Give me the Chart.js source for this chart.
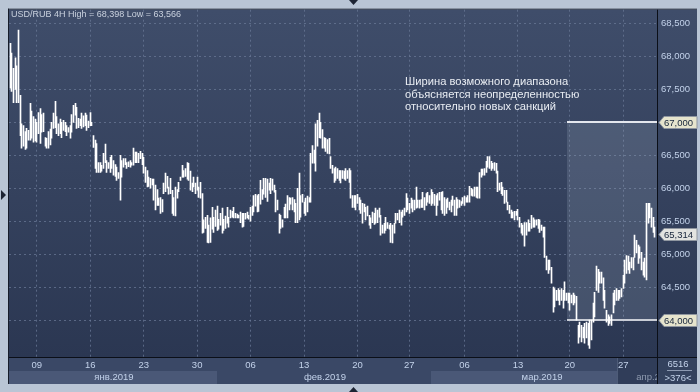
<!DOCTYPE html>
<html><head><meta charset="utf-8">
<script src="https://cdn.jsdelivr.net/npm/chart.js@4.4.1/dist/chart.umd.min.js"></script>
<style>html,body{margin:0;padding:0;background:#b9c5d5;overflow:hidden}canvas{display:block}</style>
</head><body>
<canvas id="c" width="700" height="392"></canvas>
<script>
// ---- DATA (USD/RUB, 4H bars, 07.01.2019 – 01.04.2019) ----
const highs = [
68.20,68.05,67.82,67.98,67.86,68.40,67.41,66.98,66.95,66.86,
66.91,66.88,67.29,67.17,67.09,67.05,67.00,67.15,67.21,67.12,
67.14,66.77,66.76,66.86,66.90,67.00,67.14,67.32,67.09,66.98,
67.05,67.00,67.03,67.00,66.95,66.92,66.95,67.12,67.26,67.29,
67.23,67.06,67.05,67.14,67.10,67.14,67.11,67.02,67.15,67.00,
66.80,66.73,66.68,66.39,66.39,66.35,66.53,66.67,66.42,66.39,
66.47,66.50,66.42,66.36,66.32,66.24,66.50,66.42,66.45,66.45,
66.39,66.40,66.42,66.39,66.61,66.55,66.55,
66.53,66.56,66.53,66.47,66.32,66.27,66.17,66.15,66.14,66.14,
66.05,65.98,65.85,65.86,65.83,66.08,66.23,66.18,66.02,66.15,
65.97,65.86,66.02,65.98,66.09,66.17,66.35,66.27,66.30,66.39,
66.38,66.26,66.08,66.17,66.08,66.17,66.02,66.09,65.92,65.52,
65.56,65.59,65.44,65.55,65.71,65.56,65.67,65.73,65.53,65.62,
65.70,65.53,65.58,65.71,65.56,65.67,65.65,65.71,65.62,65.61,
65.59,65.64,65.62,65.62,65.62,65.64,65.59,65.71,65.73,65.89,
65.91,65.89,65.91,66.12,65.98,66.15,66.15,66.14,66.08,66.15,
66.14,66.05,65.97,65.82,65.61,65.59,65.52,65.71,65.76,65.89,
65.86,65.85,65.86,65.83,65.77,66.00,66.23,65.89,65.91,65.79,
65.85,65.88,65.86,66.53,66.65,66.58,66.98,67.03,67.14,67.00,
66.89,66.77,66.76,66.74,66.76,66.48,66.35,66.30,66.32,66.30,
66.27,66.27,66.27,66.26,66.30,66.27,66.30,66.27,65.89,65.89,
65.89,65.91,65.86,65.82,65.77,65.76,65.71,65.73,65.59,65.55,
65.64,65.62,65.70,65.67,65.70,65.59,65.44,65.47,65.56,65.48,
65.44,65.47,65.44,65.47,65.62,65.62,65.67,65.64,65.67,65.70,
65.92,65.85,65.77,65.85,65.82,65.82,66.02,65.82,65.82,65.83,
65.94,65.86,65.92,65.94,65.89,65.98,65.94,65.91,65.89,65.92,
65.94,65.94,65.95,65.86,65.83,65.85,65.79,65.82,65.88,65.82,
65.86,65.83,65.82,65.80,65.86,65.88,65.86,65.89,66.03,66.00,
65.98,66.02,66.02,66.02,66.24,66.29,66.29,66.30,66.41,66.48,
66.48,66.41,66.38,66.39,66.38,66.26,66.08,66.09,66.02,65.97,
65.97,65.79,65.74,65.67,65.64,65.65,65.65,65.68,65.56,65.47,
65.44,65.48,65.48,65.52,65.47,65.59,65.55,65.52,
65.52,65.53,65.52,65.44,65.41,65.41,64.97,64.91,64.91,64.80,
64.50,64.48,64.45,64.48,64.45,64.48,64.45,64.58,64.41,64.41,
64.41,64.38,64.41,64.38,64.36,63.92,63.97,63.92,63.89,63.95,
63.97,63.95,64.00,64.00,64.26,64.42,64.82,64.77,64.73,64.73,
64.64,64.45,64.15,64.08,64.05,64.08,64.41,64.45,64.48,64.45,
64.45,64.48,64.68,64.91,64.98,64.97,64.88,64.95,64.95,65.29,
65.21,65.14,65.11,65.03,64.88,64.94,65.77,65.77,65.77,65.70,
65.56,65.41
];
const lows = [
67.52,67.47,67.30,67.50,67.30,67.30,66.80,66.61,66.64,66.59,
66.61,66.73,66.73,66.76,66.70,66.72,66.70,66.83,66.68,66.85,
66.86,66.64,66.61,66.61,66.66,66.76,66.91,66.92,66.83,66.80,
66.83,66.77,66.88,66.86,66.80,66.85,66.76,66.85,67.00,67.11,
66.91,66.92,66.95,66.91,66.93,66.95,66.88,66.92,66.95,66.95,
66.62,66.30,66.24,66.24,66.24,66.26,66.30,66.39,66.24,66.30,
66.24,66.30,66.20,66.18,66.12,66.15,65.82,66.17,66.32,66.36,
66.30,66.33,66.32,66.35,66.35,66.39,66.39,
66.39,66.45,66.36,66.23,66.09,66.02,66.03,66.00,66.05,65.82,
65.67,65.74,65.74,65.62,65.64,65.92,65.95,66.00,65.91,65.92,
65.62,65.59,65.58,65.85,65.95,66.12,66.17,66.17,66.18,66.14,
66.12,65.97,65.95,66.02,65.92,65.97,65.86,65.85,65.32,65.33,
65.39,65.18,65.17,65.18,65.38,65.33,65.42,65.36,65.38,65.44,
65.32,65.36,65.39,65.47,65.41,65.55,65.56,65.55,65.55,65.55,
65.55,65.48,65.41,65.42,65.53,65.55,65.53,65.50,65.59,65.64,
65.73,65.64,65.65,65.76,65.83,65.91,65.86,65.80,65.97,65.92,
65.97,65.94,65.64,65.67,65.32,65.39,65.41,65.55,65.55,65.55,
65.67,65.76,65.67,65.64,65.48,65.48,65.52,65.56,65.79,65.62,
65.59,65.64,65.79,65.79,66.38,66.38,66.26,66.64,66.77,66.76,
66.61,66.61,66.56,66.53,66.52,66.30,66.23,66.09,66.12,66.15,
66.12,66.08,66.15,66.14,66.12,66.15,66.09,65.85,65.71,65.71,
65.67,65.77,65.67,65.62,65.47,65.64,65.52,65.58,65.44,65.39,
65.48,65.45,65.47,65.48,65.56,65.29,65.32,65.32,65.36,65.39,
65.38,65.18,65.17,65.32,65.47,65.52,65.48,65.44,65.56,65.59,
65.64,65.67,65.62,65.70,65.64,65.67,65.70,65.71,65.70,65.71,
65.71,65.67,65.74,65.79,65.77,65.74,65.77,65.74,65.59,65.74,
65.82,65.67,65.62,65.59,65.62,65.71,65.67,65.64,65.74,65.59,
65.59,65.70,65.71,65.74,65.77,65.74,65.79,65.79,65.79,65.89,
65.88,65.88,65.86,65.85,65.85,66.17,66.20,66.20,66.24,66.32,
66.30,66.27,66.30,66.27,66.23,65.95,65.97,65.92,65.89,65.77,
65.79,65.67,65.62,65.55,65.55,65.52,65.59,65.52,65.41,65.32,
65.29,65.12,65.29,65.35,65.35,65.39,65.41,65.41,
65.44,65.39,65.33,65.36,65.26,64.95,64.76,64.71,64.76,64.56,
64.12,64.20,64.30,64.30,64.23,64.30,64.18,64.30,64.30,64.26,
64.15,64.26,64.23,64.26,64.00,63.65,63.74,63.67,63.73,63.65,
63.73,63.62,63.57,63.70,63.97,64.05,64.45,64.42,64.56,64.56,
64.30,64.18,63.97,63.92,63.95,63.92,64.11,64.23,64.30,64.30,
64.33,64.35,64.48,64.56,64.71,64.76,64.71,64.79,64.76,64.95,
65.02,64.86,64.94,64.76,64.68,64.65,64.61,65.47,65.55,65.41,
65.33,65.26
];
const lastPrice = 65.314;
const priceTicks = [64.0,64.5,65.0,65.5,66.0,66.5,67.0,67.5,68.0,68.5];
const dateTickIdx = [16,48,80,112,144,176,208,239,272,304,335,367];
const dateTickLabels = ['09','16','23','30','06','13','20','27','06','13','20','27'];
const monthLabelIdx = [62.2,188.5,318.4,386.6];
const monthLabels = ['янв.2019','фев.2019','мар.2019','апр.2019'];
const monthBoxStart = [-0.6,251.9];
const monthBoxEnd = [123.9,363.3];
const nowBoxStart = 363.3;
const zoneStartIdx = 333.5;
const zoneHigh = 67.0;
const zoneLow = 64.0;
const headerText = 'USD/RUB 4H High = 68,398 Low = 63,566';
const noteLines = ['Ширина возможного диапазона','объясняется неопределенностью','относительно новых санкций'];
const cornerTop = '6516';
const cornerBottom = '>376<';

const FONT = "'Liberation Sans', Arial, sans-serif";
const fmt = v => v.toFixed(3).replace('.', ',');
const N = highs.length;
const R = 697, B = 384;

const deco = {
  id: 'deco',
  afterDatasetsUpdate(chart) {
    chart.getDatasetMeta(0).data.forEach(el => { el.x = Math.floor(el.x) + 0.5; });
  },
  beforeDraw(chart) {
    const {ctx, chartArea: a, scales: {x}} = chart;
    ctx.save();
    ctx.fillStyle = '#b9c5d5'; ctx.fillRect(0, 0, chart.width, chart.height);
    ctx.fillStyle = '#161c2a';
    ctx.fillRect(a.left - 1, a.top - 1, R - a.left + 1, 1);
    ctx.fillRect(a.left - 1, a.top - 1, 1, B - a.top + 1);
    const g = ctx.createLinearGradient(0, a.top, 0, a.bottom);
    g.addColorStop(0, '#3f4d6a'); g.addColorStop(1, '#2b3752');
    ctx.fillStyle = g; ctx.fillRect(a.left, a.top, R - a.left, a.bottom - a.top);
    ctx.fillStyle = '#3a4866'; ctx.fillRect(a.left, a.bottom, R - a.left, B - a.bottom);
    ctx.fillStyle = '#4a5877';
    for (let i = 0; i < monthBoxStart.length; i++) {
      const x0 = Math.round(x.getPixelForValue(monthBoxStart[i]));
      const x1 = Math.round(x.getPixelForValue(monthBoxEnd[i]));
      ctx.fillRect(x0, a.bottom + 14, x1 - x0, B - a.bottom - 14);
    }
    const nb = Math.round(x.getPixelForValue(nowBoxStart));
    ctx.fillStyle = '#303d59'; ctx.fillRect(nb, a.bottom, a.right - nb, B - a.bottom);
    ctx.fillStyle = '#4e5c78'; ctx.fillRect(nb, a.bottom, 1, B - a.bottom);
    ctx.restore();
  },
  beforeDatasetsDraw(chart) {
    const {ctx, chartArea: a, scales: {x, y}} = chart;
    ctx.save();
    const x0 = Math.round(x.getPixelForValue(zoneStartIdx));
    const yt = Math.round(y.getPixelForValue(zoneHigh));
    const yb = Math.round(y.getPixelForValue(zoneLow));
    ctx.fillStyle = 'rgba(165,178,200,0.20)';
    ctx.fillRect(x0, yt, a.right - x0, yb - yt);
    ctx.fillStyle = '#e4e7ee'; ctx.fillRect(x0, yt - 1, a.right - x0, 2);
    ctx.fillStyle = '#c9cdd6'; ctx.fillRect(x0, yb - 1, a.right - x0, 2);
    ctx.restore();
  },
  afterDraw(chart) {
    const {ctx, chartArea: a, scales: {y}} = chart;
    ctx.save();
    // corner box (covers overflowing month label)
    ctx.fillStyle = '#34425e'; ctx.fillRect(a.right, a.bottom, R - a.right, B - a.bottom);
    ctx.fillStyle = '#b9c5d5'; ctx.fillRect(R, 0, 700 - R, 392);
    ctx.fillStyle = '#0b0f18';
    ctx.fillRect(a.right, a.top, 1, B - a.top);
    ctx.fillRect(a.left, a.bottom, R - a.left, 1);
    // price tags
    const tag = (v, fill) => {
      const py = Math.round(y.getPixelForValue(v)) + 0.5;
      const h = 12, xl = a.right + 2;
      ctx.beginPath();
      ctx.moveTo(xl, py); ctx.lineTo(xl + 5, py - h / 2); ctx.lineTo(R, py - h / 2);
      ctx.lineTo(R, py + h / 2); ctx.lineTo(xl + 5, py + h / 2); ctx.closePath();
      ctx.fillStyle = fill; ctx.fill();
      ctx.strokeStyle = '#8f96a0'; ctx.lineWidth = 1; ctx.stroke();
      ctx.fillStyle = '#16243a'; ctx.font = '9.5px ' + FONT;
      ctx.textAlign = 'left'; ctx.textBaseline = 'middle';
      ctx.fillText(fmt(v), xl + 5, py + 0.5);
    };
    tag(zoneHigh, '#e6e4cd');
    tag(zoneLow, '#e6e4cd');
    tag(lastPrice, '#e2e3e0');
    // header
    ctx.fillStyle = '#c9d1de'; ctx.font = '9px ' + FONT;
    ctx.textAlign = 'left'; ctx.textBaseline = 'middle';
    ctx.fillText(headerText, 11, 15);
    // note
    ctx.fillStyle = '#e9edf3'; ctx.font = '11.2px ' + FONT;
    noteLines.forEach((t, i) => ctx.fillText(t, 405, 82 + i * 12.5));
    // corner
    ctx.fillStyle = '#c3d2ea'; ctx.font = '9.5px ' + FONT; ctx.textAlign = 'center';
    ctx.fillText(cornerTop, 678, 364);
    ctx.fillText(cornerBottom, 678, 378);
    ctx.fillStyle = '#8d9ab2'; ctx.fillRect(667, 370, 25, 1);
    // scroll markers
    ctx.fillStyle = '#1d2433';
    ctx.beginPath(); ctx.moveTo(349, 0); ctx.lineTo(358, 0); ctx.lineTo(353.5, 5); ctx.closePath(); ctx.fill();
    ctx.beginPath(); ctx.moveTo(1, 190); ctx.lineTo(6, 195); ctx.lineTo(1, 200); ctx.closePath(); ctx.fill();
    ctx.beginPath(); ctx.moveTo(349, 392); ctx.lineTo(358, 392); ctx.lineTo(353.5, 387); ctx.closePath(); ctx.fill();
    ctx.restore();
  }
};

new Chart(document.getElementById('c'), {
  type: 'bar',
  data: {
    datasets: [{
      data: highs.map((h, i) => ({x: i, y: [lows[i], h]})),
      backgroundColor: '#ffffff',
      borderWidth: 0,
      barThickness: 1,
      grouped: false
    }]
  },
  options: {
    responsive: false, animation: false, devicePixelRatio: 1,
    layout: {padding: {left: 9, top: 9, right: 3, bottom: 8}},
    plugins: {legend: {display: false}, tooltip: {enabled: false}},
    scales: {
      x: {
        type: 'linear', position: 'bottom', weight: 0, offset: false,
        min: -0.6, max: N - 1 + 1.2,
        afterBuildTicks: s => { s.ticks = dateTickIdx.map(v => ({value: v})); },
        afterFit: s => { s.height = 14; },
        ticks: {autoSkip: false, maxRotation: 0, padding: 3, color: '#c3d2ea',
                font: {family: FONT, size: 9.5},
                callback: (v, i) => dateTickLabels[i]},
        grid: {display: true, drawTicks: false, drawOnChartArea: true, offset: false, color: 'rgba(105,120,150,0.75)', lineWidth: 1},
        border: {display: false, dash: [2, 3]}
      },
      xm: {
        type: 'linear', position: 'bottom', weight: 1, offset: false,
        min: -0.6, max: N - 1 + 1.2,
        afterBuildTicks: s => { s.ticks = monthLabelIdx.map(v => ({value: v})); },
        afterFit: s => { s.height = 13; },
        ticks: {autoSkip: false, maxRotation: 0, padding: 1,
                color: c => c.index === 3 ? '#8d99ae' : '#c3d2ea',
                font: {family: FONT, size: 9.5},
                callback: (v, i) => monthLabels[i]},
        grid: {display: false, drawTicks: false, offset: false},
        border: {display: false}
      },
      y: {
        position: 'right', min: 63.44, max: 68.71,
        afterBuildTicks: s => { s.ticks = priceTicks.map(v => ({value: v})); },
        afterFit: s => { s.width = 40; },
        ticks: {padding: 4, color: '#c3d2ea', font: {family: FONT, size: 9.5},
                callback: v => fmt(v)},
        grid: {display: true, drawTicks: false, color: 'rgba(105,120,150,0.75)', lineWidth: 1},
        border: {display: false, dash: [2, 3]}
      }
    }
  },
  plugins: [deco]
});
</script>
</body></html>
